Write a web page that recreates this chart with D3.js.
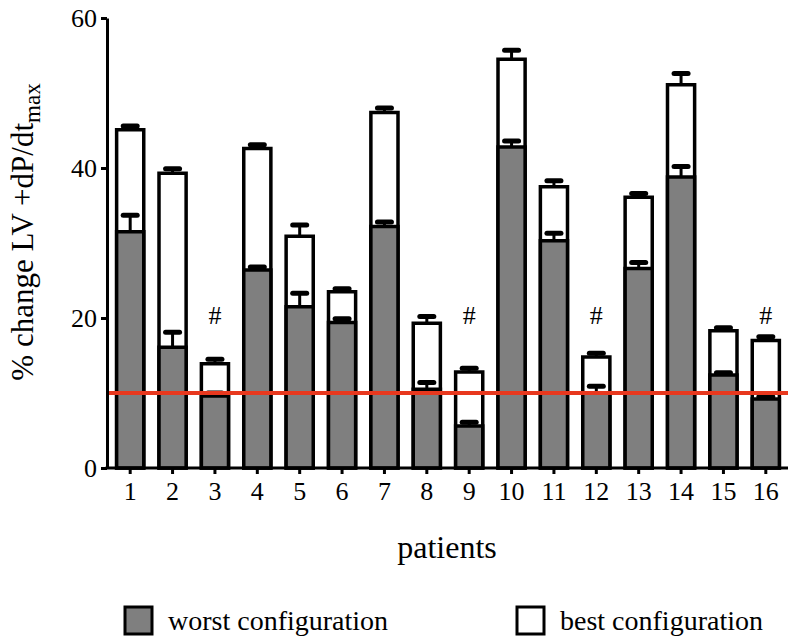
<!DOCTYPE html>
<html>
<head>
<meta charset="utf-8">
<script src="https://cdn.jsdelivr.net/npm/d3@7"></script>
<style>
  html, body { margin: 0; padding: 0; background: #fff; }
  svg { display: block; }
  text { font-family: "Liberation Serif", "Times New Roman", serif; fill: #000; }
</style>
</head>
<body>
<svg id="chart" width="796" height="643"></svg>
<script>
const patients = ["1","2","3","4","5","6","7","8","9","10","11","12","13","14","15","16"];
const worstValues = [31.5, 16.1, 9.6, 26.4, 21.5, 19.4, 32.2, 10.5, 5.6, 42.8, 30.3, 10.0, 26.6, 38.8, 12.4, 9.2];
const worstErrors = [2.2, 2.0, 0.4, 0.4, 1.8, 0.5, 0.6, 0.9, 0.5, 0.8, 1.0, 0.9, 0.8, 1.4, 0.3, 0.3];
const bestValues  = [45.1, 39.3, 13.9, 42.6, 30.9, 23.5, 47.4, 19.3, 12.8, 54.5, 37.5, 14.8, 36.1, 51.1, 18.3, 17.0];
const bestErrors  = [0.5, 0.6, 0.6, 0.5, 1.5, 0.4, 0.6, 0.9, 0.5, 1.2, 0.8, 0.5, 0.5, 1.5, 0.4, 0.5];
const hashPatients = ["3", "9", "12", "16"];
const yTicks = [0, 20, 40, 60];
const thresholdValue = 10;
const legendLabels = ["worst configuration", "best configuration"];

const svg = d3.select("#chart");
const x = d3.scaleBand().domain(patients).range([109, 787]).paddingInner(0.36).paddingOuter(0.18);
const y = d3.scaleLinear().domain([0, 60]).range([468, 18]);

const gray = "#7f7f7f";
const red = "#e8381e";

// best bars (white, behind)
svg.append("g").selectAll("rect").data(patients).join("rect")
  .attr("x", d => x(d))
  .attr("y", (d, i) => y(bestValues[i]))
  .attr("width", x.bandwidth())
  .attr("height", (d, i) => y(0) - y(bestValues[i]))
  .attr("fill", "#fff").attr("stroke", "#000").attr("stroke-width", 3.5);

// worst bars (gray)
svg.append("g").selectAll("rect").data(patients).join("rect")
  .attr("x", d => x(d))
  .attr("y", (d, i) => y(worstValues[i]))
  .attr("width", x.bandwidth())
  .attr("height", (d, i) => y(0) - y(worstValues[i]))
  .attr("fill", gray).attr("stroke", "#000").attr("stroke-width", 3.5);

// error bars
function errorBars(vals, errs) {
  const g = svg.append("g").attr("stroke", "#000");
  patients.forEach((p, i) => {
    const cx = x(p) + x.bandwidth() / 2;
    g.append("line").attr("x1", cx).attr("x2", cx)
      .attr("y1", y(vals[i])).attr("y2", y(vals[i] + errs[i]))
      .attr("stroke-width", 3);
    g.append("line").attr("x1", cx - 7).attr("x2", cx + 7)
      .attr("y1", y(vals[i] + errs[i])).attr("y2", y(vals[i] + errs[i]))
      .attr("stroke-width", 5).attr("stroke-linecap", "round");
  });
}
errorBars(bestValues, bestErrors);
errorBars(worstValues, worstErrors);

// threshold line
svg.append("line")
  .attr("x1", 107).attr("x2", 788)
  .attr("y1", y(thresholdValue)).attr("y2", y(thresholdValue))
  .attr("stroke", red).attr("stroke-width", 4);

// hash marks
svg.append("g").selectAll("text").data(hashPatients).join("text")
  .attr("x", d => x(d) + x.bandwidth() / 2)
  .attr("y", 324)
  .attr("text-anchor", "middle")
  .attr("font-size", 26)
  .text("#");

// axes
const yAxis = d3.axisLeft(y).tickValues(yTicks).tickSize(6).tickPadding(4).tickSizeOuter(0);
const gy = svg.append("g").attr("transform", "translate(107,0)").call(yAxis);
gy.select(".domain").attr("stroke-width", 3);
gy.selectAll(".tick line").attr("stroke-width", 3);
gy.selectAll(".tick text").attr("font-size", 26);

const xAxis = d3.axisBottom(x).tickSize(6).tickPadding(8).tickSizeOuter(0);
const gx = svg.append("g").attr("transform", "translate(0,468)").call(xAxis);
gx.select(".domain").attr("stroke-width", 3).attr("d", "M105.5,0H788");
gx.selectAll(".tick line").attr("stroke-width", 3);
gx.selectAll(".tick text").attr("font-size", 26);

// axis titles
svg.append("text")
  .attr("x", 447).attr("y", 558)
  .attr("text-anchor", "middle")
  .attr("font-size", 32)
  .text("patients");

const yt = svg.append("text")
  .attr("transform", "translate(33,232) rotate(-90)")
  .attr("text-anchor", "middle")
  .attr("font-size", 31);
yt.append("tspan").text("% change LV +dP/dt");
yt.append("tspan").attr("dy", 7).attr("font-size", 23).text("max");

// legend
const legendX = [125, 517];
const legendFill = [gray, "#fff"];
legendLabels.forEach((lab, i) => {
  svg.append("rect")
    .attr("x", legendX[i]).attr("y", 607)
    .attr("width", 27).attr("height", 27)
    .attr("fill", legendFill[i]).attr("stroke", "#000").attr("stroke-width", 3);
  svg.append("text")
    .attr("x", legendX[i] + 43).attr("y", 630)
    .attr("font-size", 28)
    .text(lab);
});
</script>
</body>
</html>
